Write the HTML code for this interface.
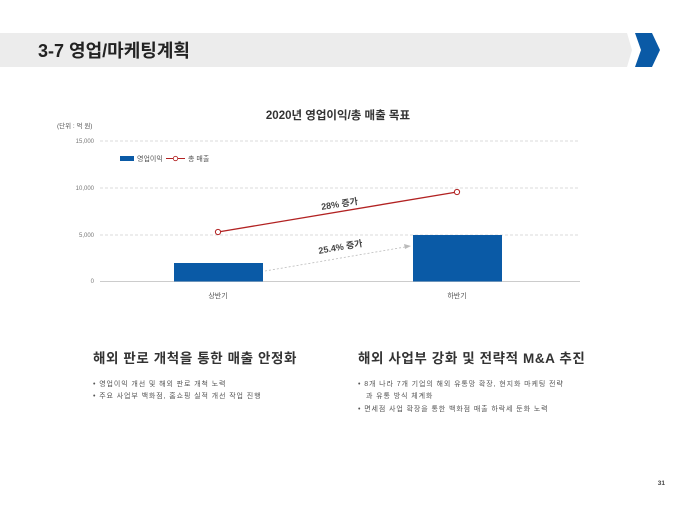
<!DOCTYPE html>
<html><head><meta charset="utf-8"><style>
body{margin:0;width:680px;height:510px;background:#fff;overflow:hidden;font-family:"Liberation Sans","Noto Sans CJK KR",sans-serif}
</style></head><body>
<svg width="680" height="510" xmlns="http://www.w3.org/2000/svg" font-family="Liberation Sans, Noto Sans CJK KR, sans-serif">
<polygon points="0,33 627,33 632,50 627,67 0,67" fill="#ececec"/>
<polygon points="635,33 652,33 660,50 652,67 635,67 641,50" fill="#0a5aa6"/>
<text x="38" y="57" font-size="18" font-weight="bold" fill="#222">3-7 영업/마케팅계획</text>
<text x="338" y="119" font-size="11.5" font-weight="bold" fill="#333" text-anchor="middle">2020년 영업이익/총 매출 목표</text>
<text x="57" y="128" font-size="6.5" fill="#555">(단위 : 억 원)</text>
<g stroke="#d0d0d0" stroke-dasharray="3,2" stroke-width="0.7">
<line x1="100" y1="141" x2="580" y2="141"/><line x1="100" y1="188" x2="580" y2="188"/><line x1="100" y1="235" x2="580" y2="235"/></g>
<line x1="100" y1="281.5" x2="580" y2="281.5" stroke="#bbb" stroke-width="0.8"/>
<g font-size="6" fill="#777" text-anchor="end">
<text x="94" y="143">15,000</text><text x="94" y="190">10,000</text><text x="94" y="237">5,000</text><text x="94" y="283">0</text></g>
<rect x="174" y="263" width="89" height="18.5" fill="#0a5aa6"/>
<rect x="413" y="235" width="89" height="46.5" fill="#0a5aa6"/>
<line x1="265" y1="271" x2="405" y2="247" stroke="#bbb" stroke-dasharray="2,2" stroke-width="0.8"/>
<polygon points="411,246 404,244 405,249" fill="#bbb"/>
<line x1="218" y1="232" x2="457" y2="192" stroke="#b22222" stroke-width="1.3"/>
<circle cx="218" cy="232" r="2.6" fill="#fff" stroke="#b22222" stroke-width="1"/>
<circle cx="457" cy="192" r="2.6" fill="#fff" stroke="#b22222" stroke-width="1"/>
<rect x="120" y="156" width="14" height="5" fill="#0a5aa6"/>
<text x="137" y="161" font-size="7" fill="#555">영업이익</text>
<line x1="166" y1="158.5" x2="185" y2="158.5" stroke="#b22222" stroke-width="1"/>
<circle cx="175.5" cy="158.5" r="2.2" fill="#fff" stroke="#b22222" stroke-width="0.8"/>
<text x="188" y="161" font-size="7" fill="#555">총 매출</text>
<text transform="translate(340,207) rotate(-9)" font-size="9" font-weight="bold" fill="#444" text-anchor="middle">28% 증가</text>
<text transform="translate(341,250) rotate(-10)" font-size="9" font-weight="bold" fill="#444" text-anchor="middle">25.4% 증가</text>
<text x="218" y="298" font-size="7" fill="#555" text-anchor="middle">상반기</text>
<text x="457" y="298" font-size="7" fill="#555" text-anchor="middle">하반기</text>
<text x="93" y="363" font-size="13.5" font-weight="bold" fill="#333" letter-spacing="0.6">해외 판로 개척을 통한 매출 안정화</text>
<text x="358" y="363" font-size="13.5" font-weight="bold" fill="#333" letter-spacing="0.6">해외 사업부 강화 및 전략적 M&amp;A 추진</text>
<g font-size="7" fill="#555" letter-spacing="0.9">
<text x="93" y="386">•  영업이익 개선 및 해외 판로 개척 노력</text>
<text x="93" y="398">•  주요 사업부 백화점, 홈쇼핑 실적 개선 작업 진행</text>
<text x="358" y="386">•  8개 나라 7개 기업의 해외 유통망 확장, 현지화 마케팅 전략</text>
<text x="366" y="398">과 유통 방식 체계화</text>
<text x="358" y="411">•  면세점 사업 확장을 통한 백화점 매출 하락세 둔화 노력</text>
</g>
<text x="665" y="485" font-size="6.5" font-weight="bold" fill="#444" text-anchor="end">31</text>
</svg>
</body></html>
